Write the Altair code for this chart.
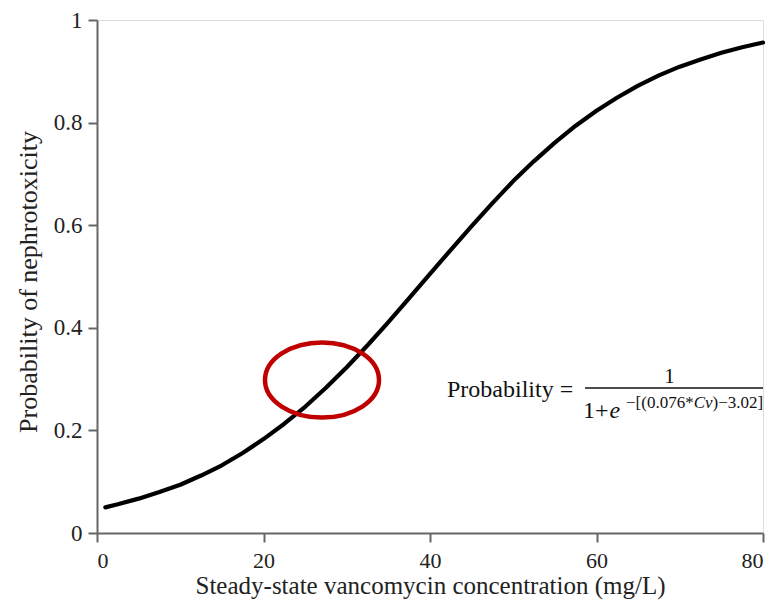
import altair as alt
import pandas as pd

# Values
conc = [1, 2.5, 5, 7.5, 10, 12.5, 15, 17.5, 20, 22.5, 25, 27.5, 30, 32.5, 35, 37.5,
        40, 42.5, 45, 47.5, 50, 52.5, 55, 57.5, 60, 62.5, 65, 67.5, 70, 72.5, 75, 77.5, 80]
prob = [0.050, 0.056, 0.067, 0.080, 0.094, 0.112, 0.132, 0.156, 0.183, 0.213, 0.246,
        0.283, 0.323, 0.366, 0.411, 0.458, 0.505, 0.552, 0.598, 0.643, 0.686, 0.725,
        0.761, 0.794, 0.823, 0.849, 0.872, 0.892, 0.909, 0.923, 0.936, 0.947, 0.956]
x_ticks = [0, 20, 40, 60, 80]
y_ticks = [0, 0.2, 0.4, 0.6, 0.8, 1]

df = pd.DataFrame({"conc": conc, "prob": prob})
one = pd.DataFrame({"a": [0]})

FONT = "Liberation Serif"
W, H = 666, 513

curve = alt.Chart(df).mark_line(color="black", strokeWidth=4.2, strokeCap="round",
                                strokeJoin="round").encode(
    x=alt.X("conc:Q", scale=alt.Scale(domain=[0, 80], nice=False),
            axis=alt.Axis(values=x_ticks, title="Steady-state vancomycin concentration (mg/L)",
                          titleBaseline="alphabetic", titleY=60, titleX=W / 2,
                          titleFontSize=25, labelPadding=8, labelFontSize=22)),
    y=alt.Y("prob:Q", scale=alt.Scale(domain=[0, 1], nice=False),
            axis=alt.Axis(values=y_ticks, format="~g", title="Probability of nephrotoxicity",
                          titleBaseline="alphabetic", titleX=-61, titleY=H / 2 + 5,
                          titleAlign="center", titleFontSize=26, labelPadding=6)),
)

ellipse_path = ("M -1 0 C -1 -0.3645 -0.5523 -0.66 0 -0.66 C 0.5523 -0.66 1 -0.3645 1 0 "
                "C 1 0.3645 0.5523 0.66 0 0.66 C -0.5523 0.66 -1 0.3645 -1 0 Z")
ellipse = alt.Chart(one).mark_point(shape=ellipse_path, filled=False, color="#c00000",
                                    strokeWidth=4.5, size=114 * 114, opacity=1).encode(
    x=alt.value(225), y=alt.value(360))

def txt(s, x, y, size, style="normal", align="left"):
    return alt.Chart(one).mark_text(text=s, font=FONT, fontSize=size, fontStyle=style,
                                    align=align, baseline="alphabetic", color="#111").encode(
        x=alt.value(x), y=alt.value(y))

prob_lbl = txt("Probability =", 350, 377, 24)
num = txt("1", 572.5, 363, 21, align="center")
bar = alt.Chart(one).mark_rule(color="#111", strokeWidth=1.5).encode(
    x=alt.value(488), x2=alt.value(666), y=alt.value(368))
den1 = txt("1+", 486, 398, 24)
den_e = txt("e", 512.5, 398, 24, style="italic")
sup1 = txt("\u2212[(0.076*", 529, 388, 17)
sup2 = txt("Cv", 596.7, 388, 17, style="italic")
sup3 = txt(")\u22123.02]", 615.6, 388, 17)

chart = alt.layer(curve, ellipse, prob_lbl, num, bar, den1, den_e, sup1, sup2, sup3).properties(
    width=W, height=H,
    autosize=alt.AutoSizeParams(type="none"),
    padding={"left": 97, "top": 20, "right": 13, "bottom": 69},
).configure_view(stroke=None).configure(background="white").configure_axis(
    grid=False, domainColor="#666", domainWidth=2, tickColor="#666", tickWidth=2, tickSize=9,
    labelFont=FONT, labelFontSize=23, labelColor="#222", titleFont=FONT, titleFontSize=24,
    titleFontWeight="normal", titleColor="#222",
)

chart.save("out.html", embed_options={"renderer": "svg", "actions": False})
